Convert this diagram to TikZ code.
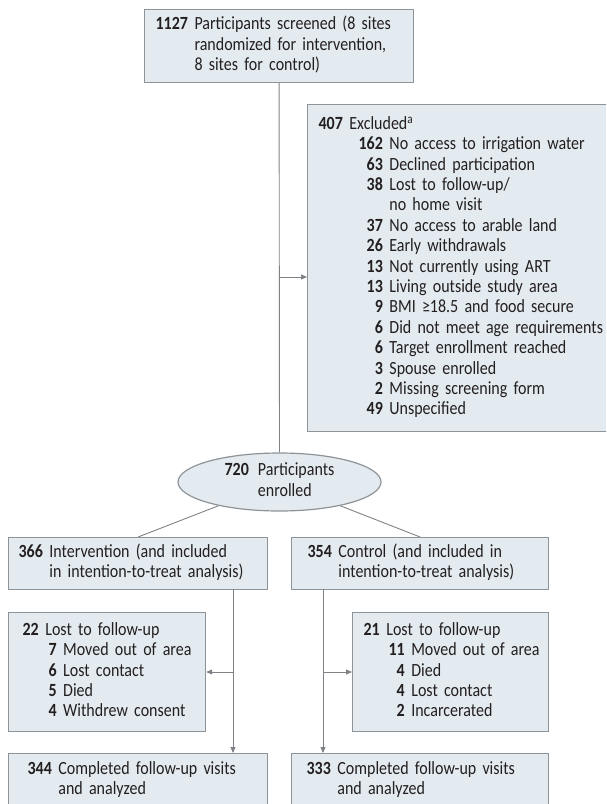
\documentclass[tikz,border=0pt]{standalone}
\usepackage{fontspec}
\setmainfont{Carlito}[FakeStretch=0.86]
\usetikzlibrary{arrows.meta,shapes.geometric}
\definecolor{fillc}{HTML}{E4EBF0}
\definecolor{bordc}{HTML}{8E9397}
\definecolor{linec}{HTML}{7F8387}
\definecolor{txtc}{HTML}{231F20}
\newcommand{\numgap}{\hspace{6.5pt}}
\tikzset{
  fbox/.style={draw=bordc, fill=fillc, line width=1.2pt, inner ysep=0pt,
    align=left, anchor=north west, text=txtc,
    font=\fontsize{18.6}{20.4}\selectfont},
  conn/.style={draw=linec, line width=0.9pt},
  arr/.style={conn, -{Triangle[length=6pt,width=5pt]}}
}
\begin{document}
\begin{tikzpicture}[x=1pt,y=-1pt]
\useasboundingbox (0,0) rectangle (606,804);
\clip (0,0) rectangle (606,804);

% top box
\node[fbox, inner xsep=11pt, text width=247pt, minimum height=73pt] (top) at (144,9)
{\begin{tabular}{@{}r@{\numgap}l@{}}
\textbf{1127} & Participants screened (8 sites\\
 & randomized for intervention,\\
 & 8 sites for control)
\end{tabular}};

% excluded box
\node[fbox, inner xsep=11pt, text width=285pt, minimum height=327pt] (excl) at (307,104)
{\begin{tabular}{@{\hspace{40pt}}r@{\numgap}l@{}}
\multicolumn{2}{@{}l@{}}{\textbf{407}\numgap Excluded\textsuperscript{a}}\\
\textbf{162} & No access to irrigation water\\
\textbf{63} & Declined participation\\
\textbf{38} & Lost to follow-up/\\
 & no home visit\\
\textbf{37} & No access to arable land\\
\textbf{26} & Early withdrawals\\
\textbf{13} & Not currently using ART\\
\textbf{13} & Living outside study area\\
\textbf{9} & BMI ≥18.5 and food secure\\
\textbf{6} & Did not meet age requirements\\
\textbf{6} & Target enrollment reached\\
\textbf{3} & Spouse enrolled\\
\textbf{2} & Missing screening form\\
\textbf{49} & Unspecified
\end{tabular}};

% ellipse
\node[ellipse, draw=bordc, fill=fillc, line width=1.2pt, text=txtc,
  minimum width=203pt, minimum height=58pt, inner sep=0pt,
  font=\fontsize{18.6}{20.4}\selectfont] (ell) at (279.5,482)
{\begin{tabular}{@{}r@{\hspace{9pt}}l@{}}
\textbf{720} & Participants\\
 & enrolled
\end{tabular}};

% arms
\node[fbox, inner xsep=10pt, text width=239pt, minimum height=52pt] (int) at (8,537)
{\begin{tabular}{@{}r@{\numgap}l@{}}
\textbf{366} & Intervention (and included\\
 & in intention-to-treat analysis)
\end{tabular}};
\node[fbox, inner xsep=16pt, text width=225pt, minimum height=52pt] (ctl) at (291,537)
{\begin{tabular}{@{}r@{\numgap}l@{}}
\textbf{354} & Control (and included in\\
 & intention-to-treat analysis)
\end{tabular}};

% lost boxes
\node[fbox, inner xsep=14pt, text width=169pt, minimum height=119pt] (lostl) at (8,612)
{\begin{tabular}{@{\hspace{26pt}}r@{\numgap}l@{}}
\multicolumn{2}{@{}l@{}}{\textbf{22}\numgap Lost to follow-up}\\
\textbf{7} & Moved out of area\\
\textbf{6} & Lost contact\\
\textbf{5} & Died\\
\textbf{4} & Withdrew consent
\end{tabular}};
\node[fbox, inner xsep=11pt, text width=174pt, minimum height=119pt] (lostr) at (352,612)
{\begin{tabular}{@{\hspace{25pt}}r@{\numgap}l@{}}
\multicolumn{2}{@{}l@{}}{\textbf{21}\numgap Lost to follow-up}\\
\textbf{11} & Moved out of area\\
\textbf{4} & Died\\
\textbf{4} & Lost contact\\
\textbf{2} & Incarcerated
\end{tabular}};

% completed boxes
\node[fbox, inner xsep=19pt, text width=221pt, minimum height=54pt] (compl) at (8,753)
{\begin{tabular}{@{}r@{\numgap}l@{}}
\textbf{344} & Completed follow-up visits\\
 & and analyzed
\end{tabular}};
\node[fbox, inner xsep=15pt, text width=227pt, minimum height=54pt] (compr) at (291,753)
{\begin{tabular}{@{}r@{\numgap}l@{}}
\textbf{333} & Completed follow-up visits\\
 & and analyzed
\end{tabular}};

% connectors
\coordinate (b1) at (279,277);
\draw[conn] (top.south) -- (ell.north);
\draw[arr] (b1) -- (b1 -| excl.west);
\draw[conn] (ell) -- (int.north);
\draw[conn] (ell) -- (ctl.north);

\coordinate (ia) at (233,589);
\coordinate (ib) at (233,672);
\draw[arr] (ia) -- (ia |- compl.north);
\draw[arr] (ib) -- (ib -| lostl.east);

\coordinate (ca) at (323,589);
\coordinate (cb) at (323,672);
\draw[arr] (ca) -- (ca |- compr.north);
\draw[arr] (cb) -- (cb -| lostr.west);
\end{tikzpicture}
\end{document}
